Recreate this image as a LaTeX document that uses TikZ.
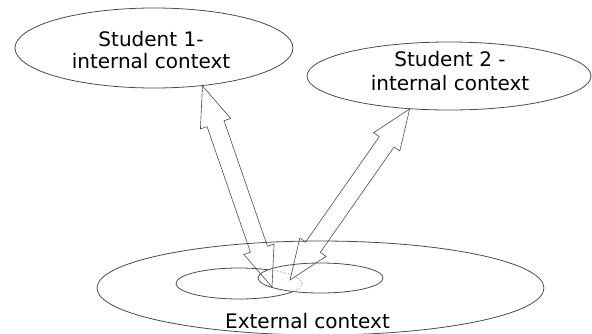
\documentclass[tikz,border=0pt]{standalone}
\usepackage{fontspec}
\setmainfont{DejaVu Sans}
\usetikzlibrary{shapes.geometric,calc}

\tikzset{
  outline/.style={draw=black!70, line width=0.8pt},
  bubble/.style={ellipse, outline, inner sep=0pt},
  words/.style={align=center, font=\fontsize{20}{21.5}\selectfont},
  hollow/.style={draw=black!70, line width=0.6pt, line join=miter},
}

\newcommand{\twohead}[2]{%
  \draw[hollow] (#1)
    -- ($(#1)!40pt!(#2)!16pt!90:(#2)$) -- ($(#1)!40pt!(#2)!9pt!90:(#2)$)
    -- ($(#2)!40pt!(#1)!9pt!-90:(#1)$) -- ($(#2)!40pt!(#1)!16pt!-90:(#1)$)
    -- (#2)
    -- ($(#2)!40pt!(#1)!16pt!90:(#1)$) -- ($(#2)!40pt!(#1)!9pt!90:(#1)$)
    -- ($(#1)!40pt!(#2)!9pt!-90:(#2)$) -- ($(#1)!40pt!(#2)!16pt!-90:(#2)$)
    -- cycle;}

\begin{document}
\begin{tikzpicture}[x=1pt, y=-1pt]
  \useasboundingbox (0,0) rectangle (592,333);

  \node[bubble, minimum width=278, minimum height=80] (s1) at (154,48) {};
  \node[bubble, minimum width=284, minimum height=68] (s2) at (449,76) {};
  \node[bubble, minimum width=447, minimum height=94] (ext) at (320.5,288) {};

  \node[words] (s1txt) at (151,50) {Student 1-\\internal context};
  \node[words] (s2txt) at (450,71) {Student 2 -\\[2.5pt]internal context};
  \node[words, anchor=base] (exttxt) at (307.5,328) {External context};

  \draw[outline] (320.5,278) ellipse [x radius=62.5pt, y radius=15pt];
  \begin{scope}
    \clip (320.5,278) ellipse [x radius=62.5pt, y radius=15pt];
    \draw[outline, draw=black!50, dotted] (239,283.5) ellipse [x radius=63pt, y radius=15.5pt];
  \end{scope}
  \begin{scope}[even odd rule]
    \clip (0,0) rectangle (592,333) (320.5,278) ellipse [x radius=62.5pt, y radius=15pt];
    \draw[outline] (239,283.5) ellipse [x radius=63pt, y radius=15.5pt];
  \end{scope}

  \coordinate (t1) at (272,287);
  \coordinate (t2) at (290,280);
  \twohead{t1}{s1.-38}
  \twohead{t2}{s2.-140}
\end{tikzpicture}
\end{document}
